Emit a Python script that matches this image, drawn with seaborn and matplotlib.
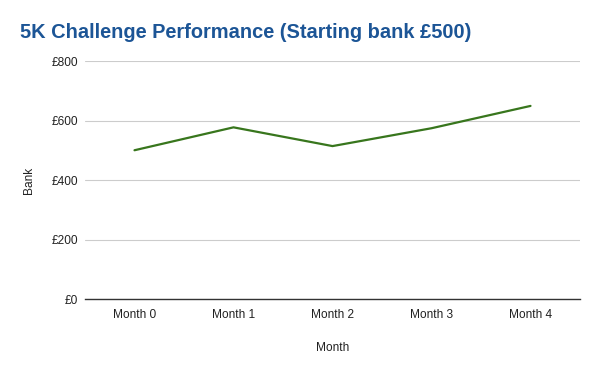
import matplotlib
matplotlib.use("Agg")
import matplotlib.pyplot as plt
import seaborn as sns
import pandas as pd

months = ["Month 0", "Month 1", "Month 2", "Month 3", "Month 4"]
bank = [500, 577, 514, 574, 649]
y_ticks = [0, 200, 400, 600, 800]
y_tick_labels = ["£0", "£200", "£400", "£600", "£800"]

sns.set_theme(style="white")
plt.rcParams["font.family"] = ["Liberation Sans", "DejaVu Sans"]

df = pd.DataFrame({"Month": months, "Bank": bank})

fig = plt.figure(figsize=(6, 3.71), dpi=100)
ax = fig.add_axes([85/600, 72/371, 495/600, 238/371])
sns.lineplot(data=df, x="Month", y="Bank", ax=ax, color="#38761d", linewidth=1.6, sort=False)

ax.set_xlim(-0.5, len(months) - 0.5)
ax.set_ylim(0, 800)
ax.set_yticks(y_ticks)
ax.set_yticklabels(y_tick_labels)
ax.yaxis.grid(True, color="#cccccc", linewidth=0.8)
ax.xaxis.grid(False)
for s in ["top", "right", "left"]:
    ax.spines[s].set_visible(False)
ax.spines["bottom"].set_color("#333333")
ax.spines["bottom"].set_linewidth(1.0)
ax.tick_params(axis="both", length=0, labelsize=8.6, colors="#222222")
ax.tick_params(axis="x", pad=7)
ax.tick_params(axis="y", pad=5)
ax.set_xlabel("Month", fontsize=8.6, color="#222222", labelpad=15)
ax.set_ylabel("Bank", fontsize=8.6, color="#222222", labelpad=12)

fig.text(20/600, 1 - 32/371, "5K Challenge Performance (Starting bank £500)",
         fontsize=14.4, fontweight="bold", color="#1c5596", va="center", ha="left")

fig.savefig("out.png", dpi=100)
